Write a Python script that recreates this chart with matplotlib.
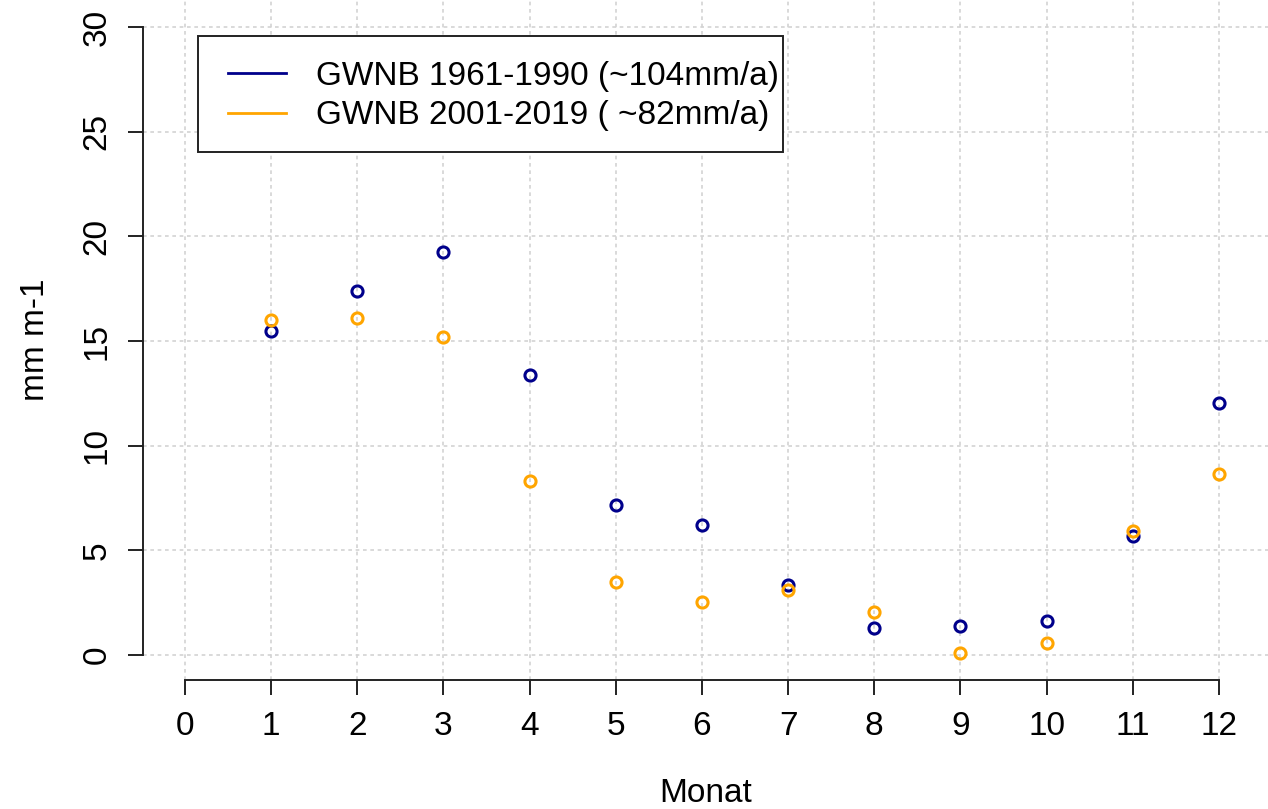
import matplotlib
matplotlib.use("Agg")
import matplotlib.pyplot as plt
from matplotlib.lines import Line2D
from matplotlib.patches import Rectangle

plt.rcParams['font.family'] = ['Liberation Sans', 'DejaVu Sans']

# monthly groundwater recharge (mm per month)
months = [1, 2, 3, 4, 5, 6, 7, 8, 9, 10, 11, 12]
gwnb_1961_1990 = [15.5, 17.4, 19.25, 13.4, 7.15, 6.2, 3.35, 1.3, 1.4, 1.65, 5.7, 12.05]
gwnb_2001_2019 = [16.0, 16.1, 15.2, 8.3, 3.5, 2.55, 3.1, 2.05, 0.1, 0.6, 5.95, 8.65]
labels = ['GWNB 1961-1990 (~104mm/a)', 'GWNB 2001-2019 ( ~82mm/a)']
colors = ['#00008B', '#FFA500']
x_ticks = list(range(0, 13))
y_ticks = list(range(0, 31, 5))

W, H = 1268, 809
fs = 24
fig = plt.figure(figsize=(W / 100, H / 100), dpi=100)
ax = fig.add_axes([143 / W, 129 / H, (W - 143) / W, 680 / H])
ax.set_xlim(-0.487, 12.57)
ax.set_ylim(-1.19, 31.29)

# grid like R's grid(lty="dotted")
for xv in x_ticks:
    ax.axvline(xv, color='#D3D3D3', lw=1.2, ls=(0, (2.2, 2.2)), zorder=0)
for yv in y_ticks:
    ax.axhline(yv, color='#D3D3D3', lw=1.2, ls=(0, (2.2, 2.2)), zorder=0)

ax.plot(months, gwnb_1961_1990, ls='none', marker='o', ms=8, mfc='none',
        mec=colors[0], mew=2.2, zorder=3)
ax.plot(months, gwnb_2001_2019, ls='none', marker='o', ms=8, mfc='none',
        mec=colors[1], mew=2.2, zorder=4)

for s in ['top', 'right']:
    ax.spines[s].set_visible(False)
ax.spines['left'].set_bounds(0, 30)
ax.spines['bottom'].set_bounds(0, 12)
for s in ['left', 'bottom']:
    ax.spines[s].set_color('#222222')
    ax.spines[s].set_linewidth(1.4)

ax.set_xticks(x_ticks)
ax.set_yticks(y_ticks)
ax.tick_params(axis='both', direction='out', length=11, width=1.4,
               color='#222222', labelsize=fs)
ax.tick_params(axis='x', pad=11)
ax.tick_params(axis='y', pad=11)
for t in ax.get_yticklabels():
    t.set_rotation(90)
    t.set_va('center')

ax.set_xlabel('Monat', fontsize=fs, va='center')
ax.xaxis.set_label_coords(0.5, -113 / 680)
ax.set_ylabel('mm m-1', fontsize=fs, va='center')
ax.yaxis.set_label_coords((35 - 143) / (W - 143), 0.5)

# legend box (R style: wider padding on the left)
box = Rectangle((198 / W, 1 - 152 / H), (783 - 198) / W, 116 / H,
                transform=fig.transFigure, facecolor='white',
                edgecolor='#222222', lw=1.4, zorder=5)
fig.patches.append(box)

handles = [Line2D([], [], color=c, lw=2.0) for c in colors]
leg = fig.legend(handles, labels, loc='upper left',
                 bbox_to_anchor=(228 / W, 1 - 61 / H), borderaxespad=0,
                 fontsize=fs, frameon=False, handlelength=1.75,
                 handletextpad=0.88, borderpad=0, labelspacing=0.25)
leg.set_zorder(6)

fig.savefig('out.png', dpi=100)
